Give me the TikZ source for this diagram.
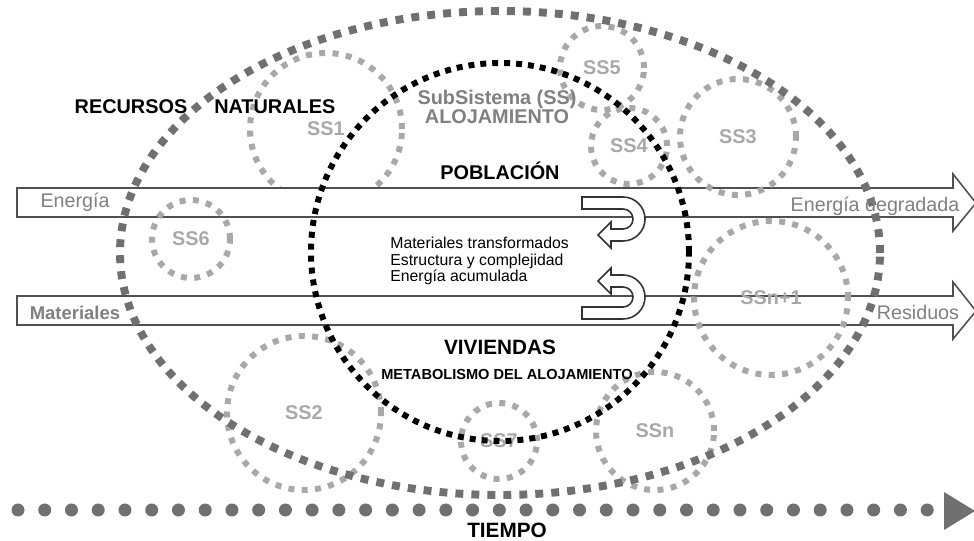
\documentclass[tikz,border=0pt]{standalone}
\usepackage{fontspec}
\setmainfont{Liberation Sans}
\usetikzlibrary{shapes.geometric}

\definecolor{ssgray}{HTML}{A8A8A8}
\definecolor{rngray}{HTML}{707070}
\definecolor{txtgray}{HTML}{808080}
\definecolor{bandgray}{HTML}{505050}

\tikzset{
  ss/.style={circle, draw=ssgray, line width=3.4pt, dash pattern=on 3.4pt off 4.2pt,
    text=ssgray, font=\fontsize{11.3}{13}\selectfont\bfseries, inner sep=0pt},
  rn/.style={draw=rngray, line width=4.5pt, dash pattern=on 4.5pt off 4.6pt, inner sep=0pt},
  aloj/.style={circle, draw=black, line width=3.4pt, dash pattern=on 3.4pt off 3.4pt, inner sep=0pt},
  band/.style={draw=bandgray, line width=0.9pt, fill=white, line join=miter},
  uturn/.style={draw=black!80, line width=0.9pt, fill=white},
  title/.style={anchor=base, inner sep=0pt, font=\fontsize{11.3}{13}\selectfont\bfseries},
  flow/.style={anchor=base, inner sep=0pt, text=txtgray, font=\fontsize{11.2}{13}\selectfont}
}

\begin{document}
\begin{tikzpicture}[x=0.2mm, y=-0.2mm]
\useasboundingbox (0,0) rectangle (974,541);

\node (SS-1) at (326,129) [ss, minimum size=30.4mm]{SS1};

% bandas de energia y materiales
\path [band] (17,188) -- (953,188) -- (953,174) -- (976,203) -- (953,231) -- (953,217) -- (17,217) -- cycle;
\path [band] (17,296) -- (953,296) -- (953,282) -- (976,311) -- (953,339) -- (953,325) -- (17,325) -- cycle;

\path [uturn] (582,197) -- (623,197) arc[start angle=-90, end angle=90, radius=22] -- (611,241) -- (611,248) -- (598,235) -- (611,222) -- (611,229) -- (623,229) arc[start angle=90, end angle=-90, radius=10] -- (582,209) -- cycle;
\path [uturn] (582,319) -- (623,319) arc[start angle=90, end angle=-90, radius=22] -- (611,275) -- (611,268) -- (598,281) -- (611,294) -- (611,287) -- (623,287) arc[start angle=-90, end angle=90, radius=10] -- (582,307) -- cycle;

\node (SS-5) at (602,68) [ss, minimum size=16.8mm]{SS5};
\node (SS-4) at (629,146) [ss, minimum size=15.2mm]{SS4};
\node (SS-3) at (738,137) [ss, minimum size=23.2mm]{SS3};
\node (SS-6) at (191,239) [ss, minimum size=15.6mm]{SS6};
\node (SS-2) at (304,413) [ss, minimum size=30.8mm]{SS2};
\node (SS-7) at (499,441) [ss, minimum size=15.2mm]{SS7};
\node (SS-n) at (655,431) [ss, minimum size=23.6mm]{SSn};
\node (SS-n1) at (771,298) [ss, minimum size=30.8mm]{SSn+1};

\node (RN) at (500,253) [ellipse, rn, minimum width=152mm, minimum height=96.8mm]{};
\node (ALOJ) at (500,252) [aloj, minimum size=75.6mm]{};

\node (RN-t) at (205,114) [title]{RECURSOS\hspace{5.4mm}NATURALES};
\node (ALOJ-t) at (497,124) [title, text=txtgray, align=center, font=\fontsize{11.3}{10.2}\selectfont\bfseries]{SubSistema (SS)\\ALOJAMIENTO};
\node (POB) at (500,180) [title]{POBLACIÓN};
\node (VIV) at (500,355) [title, font=\fontsize{11.8}{13}\selectfont\bfseries]{VIVIENDAS};
\node (MET) at (507,380) [title, font=\fontsize{8.3}{10}\selectfont\bfseries]{METABOLISMO DEL ALOJAMIENTO};
\node (ACUM) at (390,282) [anchor=base west, inner sep=0pt, align=left, font=\fontsize{9}{9.6}\selectfont]{Materiales transformados\\Estructura y complejidad\\Energía acumulada};

\node (E-in) at (75,208) [flow]{Energía};
\node (E-out) at (875,212) [flow]{Energía degradada};
\node (M-in) at (75,320) [flow, font=\fontsize{10.5}{13}\selectfont\bfseries]{Materiales};
\node (M-out) at (918,320) [flow]{Residuos};

% tiempo
\foreach \i in {0,...,34}
  \fill [rngray] (18+26.74*\i,510) circle (6.5);
\fill [rngray] (944,492) -- (975,511) -- (944,530) -- cycle;
\node (TIEMPO) at (507,537) [title, font=\fontsize{11.8}{13}\selectfont\bfseries]{TIEMPO};

\end{tikzpicture}
\end{document}
